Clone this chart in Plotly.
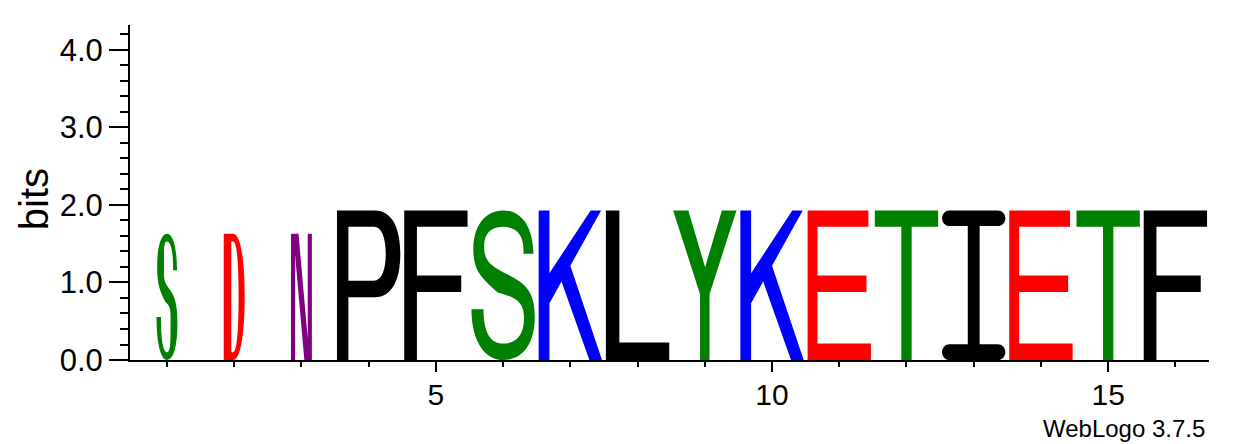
import plotly.graph_objects as go

# sequence logo data (WebLogo style)
positions = list(range(1, 17))
letters = ["S", "D", "N", "P", "F", "S", "K", "L", "Y", "K", "E", "T", "I", "E", "T", "F"]
bits = [1.63, 1.63, 1.63, 1.93, 1.93, 1.93, 1.93, 1.93,
        1.93, 1.93, 1.93, 1.93, 1.93, 1.93, 1.93, 1.93]
seq_fraction = [0.33, 0.33, 0.33, 1, 1, 1, 1, 1, 1, 1, 1, 1, 1, 1, 1, 1]

y_ticks = [0, 1, 2, 3, 4]
y_tick_text = ["0.0", "1.0", "2.0", "3.0", "4.0"]
x_ticks = [5, 10, 15]

# chemistry colour scheme
colors = {
    "S": "#008000", "T": "#008000", "Y": "#008000",
    "N": "#800080",
    "K": "#0000ff",
    "D": "#ff0000", "E": "#ff0000",
    "P": "#000000", "F": "#000000", "L": "#000000", "I": "#000000",
}

K4 = 0.5523


# --- glyph outlines in a unit box (u right, v up); sx = stem/width, sy = bar/height
def g_E(sx, sy):
    s = sx * 0.92
    return [("M", 0, 0), ("L", 1, 0), ("L", 1, sy), ("L", s, sy), ("L", s, 0.455),
            ("L", 0.93, 0.455), ("L", 0.93, 0.455 + sy), ("L", s, 0.455 + sy),
            ("L", s, 1 - sy), ("L", 0.96, 1 - sy), ("L", 0.96, 1), ("L", 0, 1), ("Z",)]


def g_F(sx, sy):
    s = sx * 1.18
    return [("M", 0, 0), ("L", s, 0), ("L", s, 0.455), ("L", 0.9, 0.455),
            ("L", 0.9, 0.455 + sy), ("L", s, 0.455 + sy), ("L", s, 1 - sy),
            ("L", 1, 1 - sy), ("L", 1, 1), ("L", 0, 1), ("Z",)]


def g_L(sx, sy):
    s = sx * 1.25
    return [("M", 0, 0), ("L", 1, 0), ("L", 1, sy * 1.07), ("L", s, sy * 1.07),
            ("L", s, 1), ("L", 0, 1), ("Z",)]


def g_T(sx, sy):
    a, b = 0.5 - sx * 0.48, 0.5 + sx * 0.48
    return [("M", a, 0), ("L", a, 1 - sy), ("L", 0, 1 - sy), ("L", 0, 1), ("L", 1, 1),
            ("L", 1, 1 - sy), ("L", b, 1 - sy), ("L", b, 0), ("Z",)]


def g_I(sx, sy):
    a, b = 0.5 - sx * 0.55, 0.5 + sx * 0.55
    r = 0.12
    t = sy * 0.95
    h = t / 2
    return [("M", r, 0), ("L", 1 - r, 0),
            ("C", 1 - r + K4 * r, 0, 1, h - K4 * h, 1, h),
            ("C", 1, h + K4 * h, 1 - r + K4 * r, t, 1 - r, t),
            ("L", b, t), ("L", b, 1 - t), ("L", 1 - r, 1 - t),
            ("C", 1 - r + K4 * r, 1 - t, 1, 1 - h - K4 * h, 1, 1 - h),
            ("C", 1, 1 - h + K4 * h, 1 - r + K4 * r, 1, 1 - r, 1),
            ("L", r, 1),
            ("C", r - K4 * r, 1, 0, 1 - h + K4 * h, 0, 1 - h),
            ("C", 0, 1 - h - K4 * h, r - K4 * r, 1 - t, r, 1 - t),
            ("L", a, 1 - t), ("L", a, t), ("L", r, t),
            ("C", r - K4 * r, t, 0, h + K4 * h, 0, h),
            ("C", 0, h - K4 * h, r - K4 * r, 0, r, 0), ("Z",)]


def g_P(sx, sy):
    s = sx * 1.06
    lo, hi = 0.42, 0.42 + sy
    return [("M", 0, 0), ("L", 0, 1), ("L", 0.60, 1),
            ("C", 0.86, 1, 1, 0.89, 1, 0.71),
            ("C", 1, 0.53, 0.86, lo, 0.60, lo),
            ("L", s, lo), ("L", s, 0), ("Z",),
            ("M", s, hi), ("L", 0.58, hi),
            ("C", 0.71, hi, 0.77, 0.61, 0.77, 0.71),
            ("C", 0.77, 0.81, 0.71, 1 - sy, 0.58, 1 - sy),
            ("L", s, 1 - sy), ("Z",)]


def g_D(sx, sy):
    a = sx * 1.09
    b = 1 - sx * 0.88
    return [("M", 0, 0), ("L", 0, 1), ("L", 0.45, 1),
            ("C", 0.80, 1, 1, 0.80, 1, 0.5),
            ("C", 1, 0.20, 0.80, 0, 0.45, 0), ("Z",),
            ("M", a, sy), ("L", 0.45, sy),
            ("C", 0.64, sy, b, 0.25, b, 0.5),
            ("C", b, 0.75, 0.64, 1 - sy, 0.45, 1 - sy),
            ("L", a, 1 - sy), ("Z",)]


def g_N(sx, sy):
    s = sx * 0.6
    return [("M", 0, 0), ("L", 0, 1), ("L", 0.36, 1), ("L", 1 - s, 0.17),
            ("L", 1 - s, 1), ("L", 1, 1), ("L", 1, 0), ("L", 0.64, 0),
            ("L", s, 0.83), ("L", s, 0), ("Z",)]


def g_K(sx, sy):
    s = sx
    return [("M", 0, 0), ("L", 0, 1), ("L", s, 1), ("L", s, 0.58),
            ("L", 0.82, 1), ("L", 0.985, 1), ("L", 0.50, 0.63),
            ("L", 1, 0), ("L", 0.80, 0), ("L", 0.36, 0.524),
            ("L", s, 0.38), ("L", s, 0), ("Z",)]


def g_Y(sx, sy):
    a, b = 0.5 - sx * 0.44, 0.5 + sx * 0.44
    return [("M", a, 0), ("L", a, 0.44), ("L", 0, 1), ("L", 0.24, 1),
            ("L", 0.505, 0.62), ("L", 0.77, 1), ("L", 1, 1),
            ("L", b, 0.44), ("L", b, 0), ("Z",)]


def g_S(sx, sy):
    a = 0.03
    il = a + sx
    ir = 1 - sx
    tu, tl = 0.71, 0.34
    twu = 0.16 if sx < 0.25 else 0.19
    twl = 0.19 if sx < 0.25 else 0.21
    sp = sy if sx < 0.25 else sy * 1.6
    return [("M", 0.98, tu),
            ("C", 0.97, 0.90, 0.78, 1, 0.50, 1),
            ("C", 0.22, 1, a, 0.90, a, 0.74),
            ("C", a, 0.60, 0.15, 0.55, 0.42, 0.57 - sp - 0.01),
            ("C", 0.72, 0.42, ir, 0.38, ir, 0.28),
            ("C", ir, 0.15, 0.68, sy, 0.50, sy),
            ("C", 0.28, sy, twl, 0.20, twl, tl),
            ("L", 0, tl),
            ("C", 0, 0.12, 0.22, 0, 0.50, 0),
            ("C", 0.80, 0, 1, 0.10, 1, 0.29),
            ("C", 1, 0.46, 0.85, 0.51, 0.58, 0.57),
            ("C", 0.30, 0.63, il, 0.66, il, 0.76),
            ("C", il, 0.85, 0.32, 1 - sy, 0.50, 1 - sy),
            ("C", 0.70, 1 - sy, 0.98 - twu + 0.02, 0.84, 0.98 - twu, tu),
            ("Z",)]


glyphs = {"E": g_E, "F": g_F, "L": g_L, "T": g_T, "I": g_I, "P": g_P,
          "D": g_D, "N": g_N, "K": g_K, "Y": g_Y, "S": g_S}


def to_path(tokens, x0, w, y0, h):
    out = []
    for t in tokens:
        nums = t[1:]
        pts = [f"{x0 + nums[i] * w:.4f},{y0 + nums[i + 1] * h:.4f}" for i in range(0, len(nums), 2)]
        out.append(t[0] + " ".join(pts))
    return " ".join(out)


shapes = []
for pos, let, b, frac in zip(positions, letters, bits, seq_fraction):
    w = 0.942 * frac
    if frac < 0.5:
        sx, sy = 0.33, 0.062
    else:
        sx, sy = 0.17, 0.11
    path = to_path(glyphs[let](sx, sy), pos - w / 2, w, 0.0, b)
    shapes.append(dict(type="path", xref="x", yref="y", path=path,
                       fillcolor=colors[let], line=dict(width=0), layer="above"))

fig = go.Figure()
fig.add_trace(go.Scatter(x=positions, y=bits, mode="markers", text=letters,
                         marker=dict(opacity=0), hoverinfo="x+y+text", showlegend=False))

font = "Liberation Sans, Arial, Helvetica, sans-serif"
fig.update_layout(
    width=1233, height=444, autosize=False,
    margin=dict(l=130, r=24, t=25, b=84),
    paper_bgcolor="white", plot_bgcolor="white",
    font=dict(family=font, color="black", size=31),
    shapes=shapes,
    xaxis=dict(range=[0.45, 16.5], showgrid=False, zeroline=False,
               showline=True, linecolor="black", linewidth=2,
               ticks="outside", tickvals=x_ticks, ticklen=10, tickwidth=2, tickcolor="black",
               tickfont=dict(size=30), ticklabelstandoff=-3,
               minor=dict(tickvals=positions, ticks="outside", ticklen=5, tickwidth=2, tickcolor="black")),
    yaxis=dict(range=[0, 4.3219], showgrid=False, zeroline=False,
               showline=True, linecolor="black", linewidth=2,
               ticks="outside", tickvals=y_ticks, ticktext=y_tick_text,
               ticklen=19, tickwidth=2, tickcolor="black", tickfont=dict(size=31),
               minor=dict(dtick=0.2, tick0=0, ticks="outside", ticklen=8, tickwidth=2, tickcolor="black")),
    annotations=[
        dict(text="bits", textangle=-90, xref="paper", yref="paper",
             x=-0.089, y=0.48, xanchor="center", yanchor="middle",
             showarrow=False, font=dict(size=40)),
        dict(text="WebLogo 3.7.5", xref="paper", yref="paper",
             x=0.998, y=-0.203, xanchor="right", yanchor="middle",
             showarrow=False, font=dict(size=24)),
    ],
)

# drop the default page margin so the chart sits at the window's top-left
fig.write_html("out.html", config={"displayModeBar": False},
               post_script="document.body.style.margin='0px';")
